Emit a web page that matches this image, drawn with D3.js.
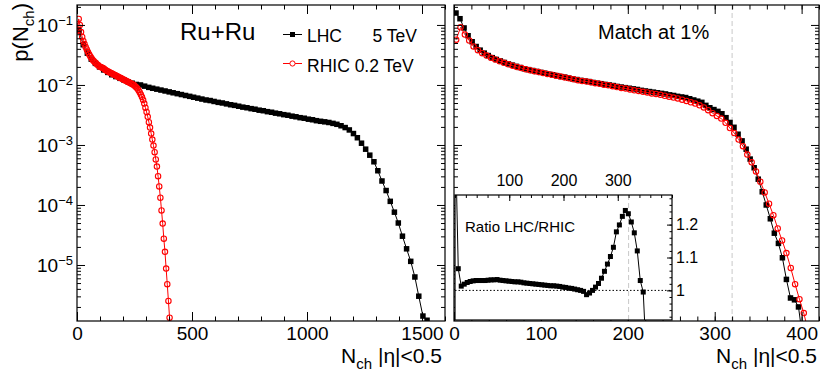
<!DOCTYPE html>
<html>
<head>
<meta charset="utf-8">
<script src="https://cdn.jsdelivr.net/npm/d3@7"></script>
<style>
body { margin: 0; background: #fff; }
svg text { font-family: "Liberation Sans", Arial, Helvetica, sans-serif; fill: #000; }
</style>
</head>
<body>
<svg id="chart" width="830" height="379"></svg>
<script>
// ---- data ----
var rhicN = [2.5, 7.5, 12.5, 17.5, 22.5, 27.5, 32.5, 37.5, 42.5, 47.5,
  52.5, 57.5, 62.5, 67.5, 72.5, 77.5, 82.5, 87.5, 92.5, 97.5,
  102.5, 107.5, 112.5, 117.5, 122.5, 127.5, 132.5, 137.5, 142.5, 147.5,
  152.5, 157.5, 162.5, 167.5, 172.5, 177.5, 182.5, 187.5, 192.5, 197.5,
  202.5, 207.5, 212.5, 217.5, 222.5, 227.5, 232.5, 237.5, 242.5, 247.5,
  252.5, 257.5, 262.5, 267.5, 272.5, 277.5, 282.5, 287.5, 292.5, 297.5,
  302.5, 307.5, 312.5, 317.5, 322.5, 327.5, 332.5, 337.5, 342.5, 347.5,
  352.5, 357.5, 362.5, 367.5, 372.5, 377.5, 382.5, 387.5, 392.5, 397.5,
  402.5, 407.5];

// RHIC 0.2 TeV, left panel
var rhicLeft = [8.1e-2, 1.26e-1, 1.0e-1, 7.6e-2, 6.3e-2, 5.4e-2, 4.8e-2, 4.3e-2, 3.9e-2, 3.55e-2,
  3.24e-2, 3.02e-2, 2.82e-2, 2.63e-2, 2.51e-2, 2.40e-2, 2.29e-2, 2.19e-2, 2.14e-2, 2.04e-2,
  2.0e-2, 1.95e-2, 1.91e-2, 1.86e-2, 1.80e-2, 1.74e-2, 1.70e-2, 1.66e-2, 1.62e-2, 1.58e-2,
  1.55e-2, 1.51e-2, 1.48e-2, 1.45e-2, 1.41e-2, 1.38e-2, 1.35e-2, 1.32e-2, 1.29e-2, 1.26e-2,
  1.23e-2, 1.20e-2, 1.17e-2, 1.15e-2, 1.12e-2, 1.10e-2, 1.07e-2, 1.05e-2, 1.02e-2, 1.00e-2,
  9.55e-3, 9.12e-3, 8.71e-3, 8.13e-3, 7.59e-3, 6.92e-3, 6.31e-3, 5.62e-3, 4.90e-3, 4.17e-3,
  3.55e-3, 2.95e-3, 2.40e-3, 1.95e-3, 1.55e-3, 1.23e-3, 9.77e-4, 7.59e-4, 5.75e-4, 4.37e-4,
  3.02e-4, 2.04e-4, 1.32e-4, 8.13e-5, 4.90e-5, 2.75e-5, 1.66e-5, 8.71e-6, 4.79e-6, 2.51e-6,
  1.32e-6, 7.0e-7];

// RHIC 0.2 TeV, right panel
var rhicRight = [5.69e-2, 9.12e-2, 6.92e-2, 5.50e-2, 4.37e-2, 3.80e-2, 3.39e-2, 3.09e-2, 2.85e-2, 2.66e-2,
  2.48e-2, 2.34e-2, 2.21e-2, 2.09e-2, 2.00e-2, 1.91e-2, 1.82e-2, 1.76e-2, 1.70e-2, 1.64e-2,
  1.58e-2, 1.53e-2, 1.48e-2, 1.43e-2, 1.38e-2, 1.33e-2, 1.29e-2, 1.24e-2, 1.20e-2, 1.16e-2,
  1.14e-2, 1.11e-2, 1.07e-2, 1.05e-2, 1.01e-2, 9.89e-3, 9.55e-3, 9.23e-3, 8.91e-3, 8.71e-3,
  8.41e-3, 8.13e-3, 7.94e-3, 7.67e-3, 7.50e-3, 7.24e-3, 7.08e-3, 6.84e-3, 6.61e-3, 6.38e-3,
  6.17e-3, 5.96e-3, 5.69e-3, 5.43e-3, 5.13e-3, 4.90e-3, 4.57e-3, 4.22e-3, 3.80e-3, 3.39e-3,
  3.05e-3, 2.75e-3, 2.34e-3, 1.91e-3, 1.58e-3, 1.23e-3, 9.55e-4, 6.92e-4, 5.13e-4, 3.63e-4,
  2.45e-4, 1.62e-4, 1.05e-4, 6.76e-5, 4.07e-5, 2.57e-5, 1.58e-5, 8.91e-6, 4.79e-6, 2.69e-6,
  1.58e-6, 7.94e-7];

// LHC 5 TeV, left panel
var lhcLeftN = [9, 27, 45, 62, 80, 98, 116, 134, 151, 169,
  187, 205, 223, 240, 258, 276, 294, 312, 329, 347,
  365, 383, 401, 418, 436, 454, 472, 490, 507, 525,
  543, 561, 579, 596, 614, 632, 650, 668, 685, 703,
  721, 739, 757, 774, 792, 810, 828, 846, 863, 881,
  899, 917, 935, 952, 970, 988, 1006, 1024, 1041, 1059,
  1077, 1095, 1113, 1130, 1148, 1166, 1184, 1202, 1219, 1237,
  1255, 1273, 1291, 1308, 1326, 1344, 1362, 1380, 1397, 1415,
  1433, 1451, 1469, 1486, 1504, 1522];
var lhcLeft = [7.94e-2, 4.68e-2, 3.39e-2, 2.69e-2, 2.29e-2, 2.00e-2, 1.78e-2, 1.62e-2, 1.48e-2, 1.38e-2,
  1.29e-2, 1.20e-2, 1.12e-2, 1.07e-2, 1.02e-2, 1.00e-2, 9.55e-3, 9.12e-3, 8.81e-3, 8.51e-3,
  8.22e-3, 7.94e-3, 7.67e-3, 7.41e-3, 7.16e-3, 6.92e-3, 6.68e-3, 6.46e-3, 6.24e-3, 6.03e-3,
  5.82e-3, 5.62e-3, 5.50e-3, 5.31e-3, 5.13e-3, 5.01e-3, 4.84e-3, 4.68e-3, 4.57e-3, 4.42e-3,
  4.27e-3, 4.17e-3, 4.03e-3, 3.94e-3, 3.80e-3, 3.72e-3, 3.59e-3, 3.51e-3, 3.39e-3, 3.31e-3,
  3.20e-3, 3.13e-3, 3.02e-3, 2.95e-3, 2.85e-3, 2.79e-3, 2.69e-3, 2.63e-3, 2.54e-3, 2.48e-3,
  2.43e-3, 2.37e-3, 2.29e-3, 2.21e-3, 2.09e-3, 1.95e-3, 1.78e-3, 1.55e-3, 1.32e-3, 1.07e-3,
  8.51e-4, 6.76e-4, 5.25e-4, 3.72e-4, 2.51e-4, 1.74e-4, 1.15e-4, 7.59e-5, 5.01e-5, 3.02e-5,
  1.86e-5, 1.15e-5, 6.31e-6, 3.02e-6, 1.41e-6, 1.20e-6];

// LHC 5 TeV, right panel (matched at 1%)
var lhcRightN = [2.3, 6.9, 11.6, 16.2, 20.9, 25.5, 30.1, 34.8, 39.4, 44.0,
  48.7, 53.3, 58.0, 62.6, 67.2, 71.9, 76.5, 81.1, 85.8, 90.4,
  95.0, 99.7, 104.3, 109.0, 113.6, 118.2, 122.9, 127.5, 132.1, 136.8,
  141.4, 146.1, 150.7, 155.3, 160.0, 164.6, 169.2, 173.9, 178.5, 183.1,
  187.8, 192.4, 197.1, 201.7, 206.3, 211.0, 215.6, 220.2, 224.9, 229.5,
  234.1, 238.8, 243.4, 248.1, 252.7, 257.3, 262.0, 266.6, 271.2, 275.9,
  280.5, 285.2, 289.8, 294.4, 299.1, 303.7, 308.3, 313.0, 317.6, 322.2,
  326.9, 331.5, 336.2, 340.8, 345.4, 350.1, 354.7, 359.3, 364.0, 368.6,
  373.3, 377.9, 382.5, 387.2, 391.8, 396.4, 401.0];
var lhcRight = [1.58e-1, 1.27e-1, 8.91e-2, 6.61e-2, 5.25e-2, 4.37e-2, 3.80e-2, 3.39e-2, 3.09e-2, 2.85e-2,
  2.66e-2, 2.51e-2, 2.37e-2, 2.24e-2, 2.14e-2, 2.04e-2, 1.95e-2, 1.86e-2, 1.80e-2, 1.74e-2,
  1.68e-2, 1.62e-2, 1.57e-2, 1.51e-2, 1.48e-2, 1.43e-2, 1.38e-2, 1.35e-2, 1.30e-2, 1.26e-2,
  1.23e-2, 1.19e-2, 1.16e-2, 1.14e-2, 1.10e-2, 1.07e-2, 1.05e-2, 1.02e-2, 1.00e-2, 9.77e-3,
  9.44e-3, 9.23e-3, 9.02e-3, 8.81e-3, 8.61e-3, 8.41e-3, 8.13e-3, 7.94e-3, 7.76e-3, 7.59e-3,
  7.41e-3, 7.24e-3, 7.08e-3, 6.84e-3, 6.68e-3, 6.46e-3, 6.31e-3, 6.17e-3, 5.89e-3, 5.62e-3,
  5.37e-3, 5.13e-3, 4.57e-3, 4.17e-3, 3.89e-3, 3.63e-3, 3.31e-3, 2.85e-3, 2.37e-3, 1.97e-3,
  1.51e-3, 1.17e-3, 8.51e-4, 5.82e-4, 4.17e-4, 2.69e-4, 1.66e-4, 1.00e-4, 5.89e-5, 3.39e-5,
  2.29e-5, 1.32e-5, 5.75e-6, 2.82e-6, 2.63e-6, 2.00e-6, 6.31e-7];

// inset: ratio LHC/RHIC
var ratioN = [1.2, 6, 11.5, 17, 22.5, 28, 33.5, 39, 44.5, 50,
  55.5, 61, 66.5, 72, 77.5, 83, 88.5, 94, 99.5, 105,
  110.5, 116, 121.5, 127, 132.5, 138, 143.5, 149, 154.5, 160,
  165.5, 171, 176.5, 182, 187.5, 193, 198.5, 204, 209.5, 215,
  220.5, 226, 231.5, 237, 242.5, 248, 253.5, 259, 264.5, 270,
  275.5, 281, 286.5, 292, 297.5, 303, 308.5, 314, 319.5, 325,
  330.5, 336, 341.5, 347, 352.5];
var ratioVal = [1.43, 1.066, 1.013, 1.019, 1.024, 1.027, 1.029, 1.030, 1.030, 1.030,
  1.030, 1.031, 1.032, 1.032, 1.033, 1.031, 1.030, 1.029, 1.028, 1.027,
  1.026, 1.026, 1.025, 1.023, 1.022, 1.021, 1.020, 1.019, 1.018, 1.017,
  1.016, 1.015, 1.014, 1.014, 1.013, 1.012, 1.010, 1.009, 1.007, 1.006,
  1.004, 1.002, 1.000, 0.997, 0.987, 0.992, 1.000, 1.010, 1.021, 1.037,
  1.058, 1.080, 1.103, 1.131, 1.178, 1.199, 1.225, 1.243, 1.233, 1.208,
  1.175, 1.120, 1.030, 0.995, 0.80];

var xLeftTicks = [0, 500, 1000, 1500];
var xRightTicks = [0, 100, 200, 300, 400];
var yDecades = [1e-5, 1e-4, 1e-3, 1e-2, 1e-1];
var insetTopTicks = [100, 200, 300];
var insetRightTicks = [1, 1.1, 1.2];
var matchN = 320;

// ---- layout ----
var svg = d3.select("#chart");
var FONT = "'Liberation Sans', Arial, Helvetica, sans-serif";

var boxL = {l: 77, r: 445, t: 5, b: 321},
    boxR = {l: 454, r: 819, t: 5, b: 321},
    boxI = {l: 455, r: 672, t: 195, b: 320};

var y = d3.scaleLog().domain([1.166e-6, 0.215]).range([boxL.b, boxL.t]);
var xL = d3.scaleLinear().domain([0, 1600]).range([boxL.l, boxL.r]);
var xR = d3.scaleLinear().domain([0, 420]).range([boxR.l, boxR.r]);
var xI = d3.scaleLinear().domain([0, 400]).range([boxI.l, boxI.r]);
var yI = d3.scaleLinear().domain([0.91, 1.29]).range([boxI.b, boxI.t]);

var defs = svg.append("defs");
function clip(id, b) {
  defs.append("clipPath").attr("id", id).append("rect")
    .attr("x", b.l).attr("y", b.t).attr("width", b.r - b.l).attr("height", b.b - b.t);
}
clip("clipL", boxL); clip("clipR", boxR); clip("clipI", boxI);

var yMinor = [];
[-6, -5, -4, -3, -2, -1].forEach(function(k) {
  for (var m = 2; m <= 9; m++) {
    var v = m * Math.pow(10, k);
    if (v > 1.166e-6 && v < 0.215) yMinor.push(v);
  }
});

function styleAxis(g) {
  g.select(".domain").remove();
  g.selectAll(".tick line").attr("stroke", "#000").attr("stroke-width", 1);
  g.attr("font-family", FONT);
}

function drawAxes(b, x, xMajor, xMinor, withYLabels) {
  var g = svg.append("g");
  // bottom
  g.append("g").attr("transform", "translate(0," + b.b + ")")
    .call(d3.axisBottom(x).tickValues(xMinor).tickSize(-4.5).tickFormat("")).call(styleAxis);
  var bl = g.append("g").attr("transform", "translate(0," + b.b + ")")
    .call(d3.axisBottom(x).tickValues(xMajor).tickSize(-9).tickPadding(6).tickFormat(d3.format("d")))
    .call(styleAxis);
  bl.selectAll("text").attr("font-size", "19px").attr("fill", "#000");
  // top
  g.append("g").attr("transform", "translate(0," + b.t + ")")
    .call(d3.axisTop(x).tickValues(xMinor).tickSize(-4.5).tickFormat("")).call(styleAxis);
  g.append("g").attr("transform", "translate(0," + b.t + ")")
    .call(d3.axisTop(x).tickValues(xMajor).tickSize(-9).tickFormat("")).call(styleAxis);
  // left / right
  g.append("g").attr("transform", "translate(" + b.l + ",0)")
    .call(d3.axisLeft(y).tickValues(yMinor).tickSize(-4).tickFormat("")).call(styleAxis);
  var yl = g.append("g").attr("transform", "translate(" + b.l + ",0)")
    .call(d3.axisLeft(y).tickValues(yDecades).tickSize(-8).tickPadding(4).tickFormat(""))
    .call(styleAxis);
  if (withYLabels) {
    yl.selectAll(".tick text").each(function(d) {
      var t = d3.select(this).attr("font-size", "19px").attr("fill", "#000").attr("dy", "0.36em");
      var e = Math.round(Math.log10(d));
      t.append("tspan").text("10");
      t.append("tspan").attr("dy", "-0.55em").attr("font-size", "13px").text("\u2212" + Math.abs(e));
    });
  }
  g.append("g").attr("transform", "translate(" + b.r + ",0)")
    .call(d3.axisRight(y).tickValues(yMinor).tickSize(-4).tickFormat("")).call(styleAxis);
  g.append("g").attr("transform", "translate(" + b.r + ",0)")
    .call(d3.axisRight(y).tickValues(yDecades).tickSize(-8).tickFormat("")).call(styleAxis);
  // frame
  g.append("rect").attr("x", b.l).attr("y", b.t)
    .attr("width", b.r - b.l).attr("height", b.b - b.t)
    .attr("fill", "none").attr("stroke", "#000").attr("stroke-width", 1.2);
}

function series(clipId, x, yS, ns, ps, color, shape, size) {
  var pts = ns.map(function(n, i) { return [n, ps[i]]; });
  var g = svg.append("g").attr("clip-path", "url(#" + clipId + ")");
  g.append("path").datum(pts)
    .attr("d", d3.line().x(function(d) { return x(d[0]); }).y(function(d) { return yS(d[1]); }))
    .attr("fill", "none").attr("stroke", color).attr("stroke-width", 1);
  if (shape == "square") {
    g.selectAll("rect").data(pts).enter().append("rect")
      .attr("x", function(d) { return x(d[0]) - size / 2; })
      .attr("y", function(d) { return yS(d[1]) - size / 2; })
      .attr("width", size).attr("height", size)
      .attr("fill", color);
  } else {
    g.selectAll("circle").data(pts).enter().append("circle")
      .attr("cx", function(d) { return x(d[0]); })
      .attr("cy", function(d) { return yS(d[1]); })
      .attr("r", size)
      .attr("fill", "none").attr("stroke", color).attr("stroke-width", 1.1);
  }
}

// ---- left panel ----
series("clipL", xL, y, lhcLeftN, lhcLeft, "#000", "square", 5.5);
series("clipL", xL, y, rhicN, rhicLeft, "#ff0000", "circle", 2.7);
drawAxes(boxL, xL, xLeftTicks, d3.range(0, 1601, 100), true);

// ---- right panel ----
svg.append("line")
  .attr("x1", xR(matchN)).attr("x2", xR(matchN)).attr("y1", boxR.t).attr("y2", boxR.b)
  .attr("stroke", "#c8c8c8").attr("stroke-width", 1).attr("stroke-dasharray", "5,3");
series("clipR", xR, y, lhcRightN, lhcRight, "#000", "square", 5.5);
series("clipR", xR, y, rhicN, rhicRight, "#ff0000", "circle", 2.7);
drawAxes(boxR, xR, xRightTicks, d3.range(0, 421, 20), false);

// ---- inset ----
svg.append("rect").attr("x", boxI.l).attr("y", boxI.t)
  .attr("width", boxI.r - boxI.l).attr("height", boxI.b - boxI.t)
  .attr("fill", "#fff");
svg.append("line")
  .attr("x1", boxI.l).attr("x2", boxI.r).attr("y1", yI(1)).attr("y2", yI(1))
  .attr("stroke", "#000").attr("stroke-width", 1).attr("stroke-dasharray", "1.5,2");
svg.append("line")
  .attr("x1", xI(matchN)).attr("x2", xI(matchN)).attr("y1", boxI.t).attr("y2", boxI.b)
  .attr("stroke", "#c8c8c8").attr("stroke-width", 1).attr("stroke-dasharray", "5,3");
series("clipI", xI, yI, ratioN, ratioVal, "#000", "square", 5);

var gi = svg.append("g");
gi.append("g").attr("transform", "translate(0," + boxI.t + ")")
  .call(d3.axisTop(xI).tickValues(d3.range(0, 401, 20)).tickSize(-3).tickFormat("")).call(styleAxis);
var it = gi.append("g").attr("transform", "translate(0," + boxI.t + ")")
  .call(d3.axisTop(xI).tickValues(insetTopTicks).tickSize(-6).tickPadding(9).tickFormat(d3.format("d")))
  .call(styleAxis);
it.selectAll("text").attr("font-size", "16px").attr("fill", "#000");
gi.append("g").attr("transform", "translate(" + boxI.r + ",0)")
  .call(d3.axisRight(yI).tickValues(d3.range(0.92, 1.29, 0.02)).tickSize(-2.5).tickFormat("")).call(styleAxis);
var ir = gi.append("g").attr("transform", "translate(" + boxI.r + ",0)")
  .call(d3.axisRight(yI).tickValues(insetRightTicks).tickSize(-5).tickPadding(4).tickFormat(d3.format("")))
  .call(styleAxis);
ir.selectAll("text").attr("font-size", "16px").attr("fill", "#000");
gi.append("rect").attr("x", boxI.l).attr("y", boxI.t)
  .attr("width", boxI.r - boxI.l).attr("height", boxI.b - boxI.t)
  .attr("fill", "none").attr("stroke", "#000").attr("stroke-width", 1.2);
svg.append("text").attr("x", 465).attr("y", 232).attr("font-size", "15px").text("Ratio LHC/RHIC");

// ---- titles ----
function xTitle(xEnd) {
  var t = svg.append("text").attr("x", xEnd).attr("y", 363)
    .attr("text-anchor", "end").attr("font-size", "21px");
  t.append("tspan").text("N");
  t.append("tspan").attr("dy", 6).attr("font-size", "15px").text("ch");
  t.append("tspan").attr("dy", -6).text(" |\u03b7|<0.5");
}
xTitle(442);
xTitle(817);

var yt = svg.append("text").attr("transform", "translate(28,3) rotate(-90)")
  .attr("text-anchor", "end").attr("font-size", "22px");
yt.append("tspan").text("p(N");
yt.append("tspan").attr("dy", 6).attr("font-size", "15px").text("ch");
yt.append("tspan").attr("dy", -6).text(")");

svg.append("text").attr("x", 180).attr("y", 40).attr("font-size", "24px").text("Ru+Ru");
svg.append("text").attr("x", 598).attr("y", 39).attr("font-size", "20px").text("Match at 1%");

// ---- legend ----
var lg = svg.append("g");
lg.append("line").attr("x1", 283).attr("x2", 302).attr("y1", 34.5).attr("y2", 34.5)
  .attr("stroke", "#000").attr("stroke-width", 1);
lg.append("rect").attr("x", 290).attr("y", 32).attr("width", 5).attr("height", 5).attr("fill", "#000");
lg.append("line").attr("x1", 283).attr("x2", 302).attr("y1", 63.5).attr("y2", 63.5)
  .attr("stroke", "#ff0000").attr("stroke-width", 1);
lg.append("circle").attr("cx", 292.5).attr("cy", 63.5).attr("r", 2.6)
  .attr("fill", "#fff").attr("stroke", "#ff0000").attr("stroke-width", 1);
lg.append("text").attr("x", 307).attr("y", 41.5).attr("font-size", "17.5px").text("LHC");
lg.append("text").attr("x", 417).attr("y", 41.5).attr("text-anchor", "end").attr("font-size", "17.5px").text("5 TeV");
lg.append("text").attr("x", 307).attr("y", 71.5).attr("font-size", "17.5px").text("RHIC 0.2 TeV");
</script>
</body>
</html>
